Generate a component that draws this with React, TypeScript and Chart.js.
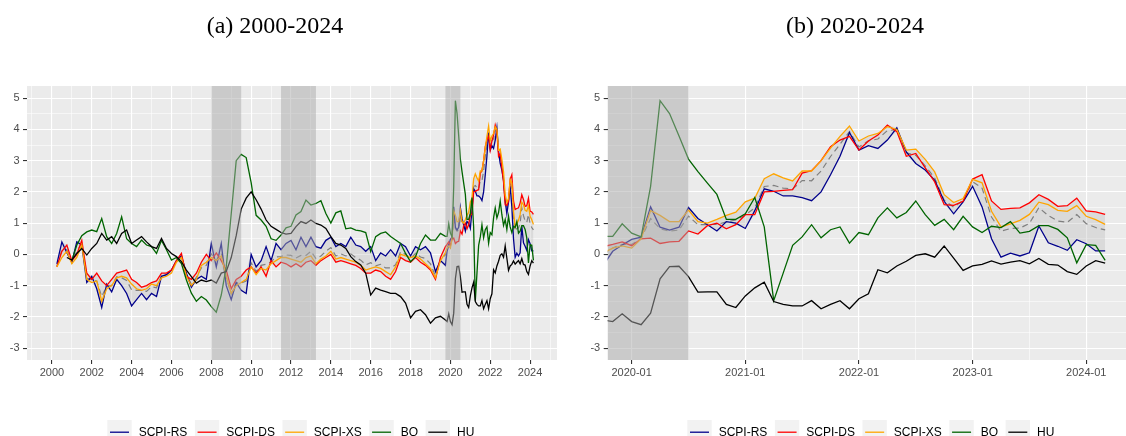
import React, { useEffect, useRef } from 'react';
import { Chart, registerables } from 'chart.js';

Chart.register(...registerables);

const FONT_SANS = '"Liberation Sans", Arial, Helvetica, sans-serif';
const FONT_SERIF = '"Liberation Serif", "Times New Roman", serif';

const seriesNames = ['SCPI-RS', 'SCPI-DS', 'SCPI-XS', 'BQ', 'HU'];
const seriesColors = ['#00008B', '#FF0000', '#FFA500', '#006400', '#000000'];

// ---- Panel (a): quarterly observations, 2000.25 .. 2019.5 (decimal years) ----
const quarterlyYears = Array.from({ length: 78 }, (_, i) => 2000.25 + i * 0.25);

const qRS = [
  -0.3, 0.4, 0.05,
  -0.25, 0.4, 0.3, -0.9,
  -0.7, -1.1, -1.7, -0.95,
  -1.2, -0.8, -1.0, -1.25,
  -1.65, -1.45, -1.25, -1.45,
  -1.25, -1.35, -0.7, -0.65,
  -0.5, -0.2, -0.05, -0.6,
  -1.05, -0.8, -0.7, -0.8,
  0.35, -0.4, 0.35, -1.0,
  -1.45, -0.9, -1.15, -1.25,
  0.0, -0.4, -0.2, 0.25,
  -0.2, 0.35, 0.15, 0.35,
  0.45, 0.15, 0.55, 0.25,
  0.55, 0.25, 0.2, 0.45,
  0.55, 0.25, 0.35, 0.25,
  0.55, 0.3, 0.25, 0.1,
  0.25, -0.2, 0.05, -0.05,
  0.15, -0.05, 0.35, 0.25,
  -0.05, 0.25, 0.15, 0.25,
  0.05, -0.55, -0.2,
];
const qDS = [
  -0.4, 0.1, 0.3,
  -0.2, 0.0, 0.45, -0.6,
  -0.8, -0.6, -0.85, -1.0,
  -0.8, -0.6, -0.55, -0.5,
  -0.8, -0.9, -1.05, -1.0,
  -0.9, -0.85, -0.6, -0.6,
  -0.5, -0.2, 0.03, -0.7,
  -0.8, -0.6, -0.25, 0.0,
  -0.2, 0.05, -0.2, -0.5,
  -1.1, -0.8, -0.7, -0.5,
  -0.4, -0.6, -0.4, -0.7,
  -0.2, -0.4, -0.25, -0.3,
  -0.4, -0.3, -0.4, -0.25,
  -0.2, -0.35, -0.2, -0.1,
  0.0, -0.25, -0.2, -0.25,
  -0.3, -0.35, -0.45, -0.6,
  -0.6, -0.5, -0.55, -0.7,
  -0.8, -0.55, -0.1, -0.2,
  -0.25, -0.1, -0.25, -0.35,
  -0.5, -0.8, -0.1,
];
const qXS = [
  -0.4, -0.1, 0.1,
  -0.3, -0.1, 0.3, -0.8,
  -0.9, -0.85, -1.5, -1.1,
  -1.0, -0.75, -0.7, -0.75,
  -0.95, -1.1, -1.15, -1.1,
  -0.95, -1.0, -0.75, -0.7,
  -0.6, -0.25, -0.1, -0.7,
  -1.0, -0.8, -0.35, -0.25,
  -0.1, -0.2, -0.05, -0.7,
  -1.25, -1.0, -0.9, -0.8,
  -0.4, -0.65, -0.45, -0.5,
  -0.3, -0.2, -0.1, -0.1,
  -0.15, -0.2, -0.25, -0.1,
  -0.05, -0.3, -0.15, -0.05,
  0.1, -0.15, -0.1, -0.15,
  -0.2, -0.25, -0.35, -0.5,
  -0.45, -0.4, -0.45, -0.55,
  -0.65, -0.4, 0.0, -0.05,
  -0.1, -0.05, -0.15, -0.3,
  -0.45, -0.75, -0.2,
];
const qBQ = [
  null, null, null,
  -0.2, 0.3, 0.6, 0.72,
  0.78, 0.73, 1.15, 0.57,
  0.35, 0.67, 1.2, 0.5,
  0.35, 0.25, 0.46, 0.3,
  0.25, 0.03, 0.45, 0.15,
  -0.18, -0.1, -0.29, -0.82,
  -1.24, -1.5, -1.35, -1.46,
  -1.67, -1.85, -1.3, -0.4,
  1.3, 3.0, 3.2, 3.1,
  2.3, 1.25, 1.1, 0.9,
  0.5, 0.45, 0.62, 0.85,
  0.9, 1.26, 1.37, 1.74,
  1.58, 1.63, 1.72, 1.31,
  1.0, 1.33, 1.39, 0.82,
  0.85, 0.78, 0.75, 0.7,
  0.09, 0.57, 0.67, 0.72,
  0.57, 0.46, 0.35, 0.03,
  -0.23, -0.07, 0.35, 0.62,
  0.46, 0.46, 0.67,
];
const qHU = [
  null, null, -0.1,
  -0.18, 0.03, 0.19, -0.02,
  0.19, 0.35, 0.67, 0.46,
  0.57, 0.35, 0.67, 0.78,
  0.35, 0.46, 0.57, 0.4,
  0.25, 0.19, 0.51, 0.19,
  0.03, -0.07, -0.23, -0.5,
  -0.71, -0.92, -0.82, -0.87,
  -0.82, -0.92, -0.6, -0.55,
  -0.1, 0.6, 1.45, 1.8,
  2.0, 1.75, 1.45, 1.1,
  0.9, 0.8, 0.7, 0.65,
  0.67, 0.89, 1.05, 0.99,
  1.1, 0.99, 0.94, 0.83,
  0.57, 0.35, 0.3, 0.19,
  -0.07, -0.23, -0.34, -0.6,
  -1.3, -1.08, -1.14, -1.19,
  -1.25, -1.25, -1.35, -1.56,
  -2.03, -1.82, -1.77, -1.93,
  -2.2, -2.03, -1.98,
];

// ---- Monthly observations 2019-10 .. 2024-03 (months relative to 2020-01) ----
const monthOffsets = Array.from({ length: 54 }, (_, i) => i - 3);

const mRS = [
  -0.35, 0.1, 0.3, 0.48, 0.55, 1.52, 0.87, 0.78, 0.87, 1.5, 1.15, 0.95, 0.75, 1.05, 1.0,
  0.83, 1.4, 2.1, 2.02, 1.87, 1.87, 1.82, 1.72, 2.0, 2.55, 3.14, 3.9, 3.34, 3.48, 3.39,
  3.66, 4.05, 3.28, 2.91, 2.7, 2.37, 1.7, 1.3, 1.68, 2.18, 1.52, 0.5, -0.09, 0.04, -0.05,
  0.05, 0.91, 0.37, 0.26, 0.13, 0.47, 0.34, 0.11, 0.11,
];
const mDS = [
  0.25, 0.32, 0.4, 0.28, 0.5, 0.52, 0.35, 0.4, 0.42, 0.75, 0.65, 0.92, 1.0, 0.82, 0.95,
  1.27, 1.27, 2.0, 2.02, 2.05, 2.07, 2.6, 2.68, 3.0, 3.45, 3.66, 3.78, 3.34, 3.63, 3.82,
  4.14, 3.93, 3.14, 3.23, 2.77, 2.32, 1.59, 1.57, 1.7, 2.41, 2.55, 1.71, 1.44, 1.47, 1.49,
  1.65, 1.91, 1.76, 1.54, 1.56, 1.8, 1.39, 1.36, 1.28,
];
const mXS = [
  0.05, 0.2, 0.27, 0.2, 0.5, 1.4, 1.25, 1.05, 1.05, 1.42, 1.05, 1.0, 1.12, 1.25, 1.35,
  1.68, 1.8, 2.42, 2.58, 2.45, 2.35, 2.67, 2.67, 3.0, 3.4, 3.78, 4.11, 3.63, 3.79, 3.87,
  4.09, 4.0, 3.34, 3.37, 3.04, 2.64, 1.91, 1.66, 1.79, 2.4, 2.29, 1.38, 0.88, 0.98, 1.09,
  1.28, 1.67, 1.59, 1.41, 1.38, 1.56, 1.22, 1.11, 0.96,
];
const mBQ = [
  0.58, 0.58, 0.98, 0.68, 0.56, 2.18, 4.92, 4.51, 3.79, 3.05, 2.65, 2.28, 1.92, 1.12, 1.12,
  1.3, 1.82, 0.88, -1.48, -0.6, 0.29, 0.56, 0.95, 0.53, 0.79, 0.88, 0.36, 0.7, 0.63, 1.17,
  1.49, 1.17, 1.34, 1.71, 1.27, 0.93, 1.12, 0.79, 1.22, 0.88, 0.7, 0.9, 0.86, 1.05, 0.68,
  0.74, 0.92, 0.92, 0.8, 0.53, -0.27, 0.31, 0.29, -0.19,
];
const mHU = [
  -2.1, -2.15, -1.9, -2.15, -2.25, -1.88, -0.78, -0.39, -0.38, -0.71, -1.21, -1.2, -1.2, -1.6, -1.7,
  -1.33, -1.07, -0.89, -1.51, -1.6, -1.65, -1.65, -1.48, -1.74, -1.6, -1.48, -1.74, -1.42, -1.26, -0.49,
  -0.59, -0.37, -0.22, -0.03, 0.02, -0.09, 0.27, -0.12, -0.51, -0.37, -0.32, -0.21, -0.31, -0.25, -0.2,
  -0.3, -0.13, -0.32, -0.34, -0.55, -0.64, -0.37, -0.2, -0.28,
];

// ---- Axis ticks ----
const yTickValues = [-3, -2.5, -2, -1.5, -1, -0.5, 0, 0.5, 1, 1.5, 2, 2.5, 3, 3.5, 4, 4.5, 5];
const leftXTickYears = [1999, 2000, 2001, 2002, 2003, 2004, 2005, 2006, 2007, 2008, 2009, 2010, 2011, 2012,
  2013, 2014, 2015, 2016, 2017, 2018, 2019, 2020, 2021, 2022, 2023, 2024, 2025];
const rightXTickMonths = [0, 6, 12, 18, 24, 30, 36, 42, 48];
const rightXLabelMonths = [0, 12, 24, 36, 48];
const rightXLabels = ['2020-01', '2021-01', '2022-01', '2023-01', '2024-01'];

// ---- Shaded periods ----
const leftShading = [[2008, 2009.5], [2011.5, 2013.25], [2019.75, 2020.5]];
const rightShading = [[-3, 6]];

type Panel = {
  title: string;
  x: number[];
  series: (number | null)[][];
  xMin: number;
  xMax: number;
  xTicks: number[];
  isMajorX: (v: number) => boolean;
  xLabel: (v: number) => string;
  shading: number[][];
  yAxisWidth: number;
  padRight: number;
  titleX: number;
  legendX: number;
};

const leftPanel: Panel = {
  title: '(a) 2000-2024',
  x: [...quarterlyYears, ...monthOffsets.map((m) => 2020 + m / 12)],
  series: [
    [...qRS, ...mRS],
    [...qDS, ...mDS],
    [...qXS, ...mXS],
    [...qBQ, ...mBQ],
    [...qHU, ...mHU],
  ],
  xMin: 1998.75,
  xMax: 2025.35,
  xTicks: leftXTickYears,
  isMajorX: (v) => Math.round(v) % 2 === 0,
  xLabel: (v) => (Math.round(v) % 2 === 0 ? String(Math.round(v)) : ''),
  shading: leftShading,
  yAxisWidth: 27,
  padRight: 6,
  titleX: 275,
  legendX: 107.3,
};

const rightPanel: Panel = {
  title: '(b) 2020-2024',
  x: monthOffsets,
  series: [mRS, mDS, mXS, mBQ, mHU],
  xMin: -2.53,
  xMax: 52.2,
  xTicks: rightXTickMonths,
  isMajorX: (v) => rightXLabelMonths.includes(Math.round(v)),
  xLabel: (v) => {
    const i = rightXLabelMonths.indexOf(Math.round(v));
    return i >= 0 ? rightXLabels[i] : '';
  },
  shading: rightShading,
  yAxisWidth: 44.7,
  padRight: 0,
  titleX: 292,
  legendX: 124.3,
};

function buildConfig(p: Panel): any {
  const [rs, ds, xs] = p.series as number[][];
  const lo = rs.map((_, i) => Math.min(rs[i], ds[i], xs[i]));
  const hi = rs.map((_, i) => Math.max(rs[i], ds[i], xs[i]));
  const mean = rs.map((_, i) => (rs[i] + ds[i] + xs[i]) / 3);
  const pts = (arr: (number | null)[]) => arr.map((y, i) => ({ x: p.x[i], y }));

  const datasets: any[] = [
    { label: 'lo', data: pts(lo), borderColor: 'rgba(0,0,0,0)', borderWidth: 0, fill: false, order: 20, clip: 0 },
    { label: 'hi', data: pts(hi), borderColor: 'rgba(0,0,0,0)', borderWidth: 0, fill: '-1',
      backgroundColor: 'rgba(185,185,185,0.35)', order: 19, clip: 0 },
    { label: 'mean', data: pts(mean), borderColor: '#7F7F7F', borderWidth: 1.2, borderDash: [6, 4],
      fill: false, order: 18, clip: 0 },
    ...p.series.map((s, k) => ({
      label: seriesNames[k],
      data: pts(s),
      borderColor: seriesColors[k],
      borderWidth: 1.3,
      fill: false,
      order: 10 - k,
      clip: 0,
    })),
  ];

  const decor = {
    id: 'panelDecor',
    beforeDraw(chart: any) {
      const { ctx, chartArea: a } = chart;
      ctx.save();
      ctx.fillStyle = '#FFFFFF';
      ctx.fillRect(0, 0, chart.width, chart.height);
      ctx.fillStyle = '#EBEBEB';
      ctx.fillRect(a.left, a.top, a.right - a.left, a.bottom - a.top);
      ctx.restore();
    },
    afterDatasetsDraw(chart: any) {
      const { ctx, chartArea: a } = chart;
      const sx = chart.scales.x;
      ctx.save();
      ctx.beginPath();
      ctx.rect(a.left, a.top, a.right - a.left, a.bottom - a.top);
      ctx.clip();
      ctx.fillStyle = 'rgba(170,170,170,0.5)';
      p.shading.forEach(([s, e]) => {
        const x0 = Math.max(a.left, sx.getPixelForValue(s));
        const x1 = Math.min(a.right, sx.getPixelForValue(e));
        ctx.fillRect(x0, a.top, x1 - x0, a.bottom - a.top);
      });
      ctx.restore();
    },
    afterDraw(chart: any) {
      const ctx = chart.ctx;
      ctx.save();
      ctx.fillStyle = '#000000';
      ctx.font = `24px ${FONT_SERIF}`;
      ctx.textAlign = 'center';
      ctx.textBaseline = 'middle';
      ctx.fillText(p.title, p.titleX, 27);

      ctx.font = `12px ${FONT_SANS}`;
      ctx.textAlign = 'left';
      let x = p.legendX;
      const boxTop = 420;
      const box = 24.4;
      const cy = boxTop + box / 2;
      seriesNames.forEach((name, k) => {
        ctx.fillStyle = '#F2F2F2';
        ctx.fillRect(x, boxTop, box, box);
        ctx.strokeStyle = seriesColors[k];
        ctx.lineWidth = 1.3;
        ctx.beginPath();
        ctx.moveTo(x + 2.7, cy);
        ctx.lineTo(x + box - 2.7, cy);
        ctx.stroke();
        ctx.fillStyle = '#000000';
        const tx = x + box + 7;
        ctx.fillText(name, tx, cy);
        x = tx + ctx.measureText(name).width + 7.5;
      });
      ctx.restore();
    },
  };

  const isMajorY = (v: number) => Number.isInteger(v);

  return {
    type: 'line',
    data: { datasets },
    options: {
      animation: false,
      responsive: false,
      devicePixelRatio: 1,
      events: [],
      layout: { padding: { top: 86, right: p.padRight, bottom: 0, left: 0 } },
      elements: { point: { radius: 0 }, line: { tension: 0 } },
      plugins: { legend: { display: false }, tooltip: { enabled: false }, title: { display: false } },
      scales: {
        x: {
          type: 'linear',
          position: 'bottom',
          min: p.xMin,
          max: p.xMax,
          afterBuildTicks: (s: any) => {
            s.ticks = p.xTicks.map((v) => ({ value: v }));
          },
          afterFit: (s: any) => {
            s.height = 76;
          },
          border: { display: false },
          grid: {
            color: '#FFFFFF',
            lineWidth: (c: any) => (c.tick && p.isMajorX(c.tick.value) ? 1.1 : 0.55),
            tickColor: (c: any) => (c.tick && p.isMajorX(c.tick.value) ? '#333333' : 'rgba(0,0,0,0)'),
            tickWidth: 1.1,
            tickLength: 4,
            drawTicks: true,
          },
          ticks: {
            autoSkip: false,
            maxRotation: 0,
            minRotation: 0,
            padding: 2,
            color: '#4D4D4D',
            font: { family: FONT_SANS, size: 11 },
            callback: (v: any) => p.xLabel(Number(v)),
          },
        },
        y: {
          type: 'linear',
          position: 'left',
          min: -3.38,
          max: 5.39,
          afterBuildTicks: (s: any) => {
            s.ticks = yTickValues.map((v) => ({ value: v }));
          },
          afterFit: (s: any) => {
            s.width = p.yAxisWidth;
          },
          border: { display: false },
          grid: {
            color: '#FFFFFF',
            lineWidth: (c: any) => (c.tick && isMajorY(c.tick.value) ? 1.1 : 0.55),
            tickColor: (c: any) => (c.tick && isMajorY(c.tick.value) ? '#333333' : 'rgba(0,0,0,0)'),
            tickWidth: 1.1,
            tickLength: 4,
            drawTicks: true,
          },
          ticks: {
            autoSkip: false,
            padding: 3.5,
            color: '#4D4D4D',
            font: { family: FONT_SANS, size: 11 },
            callback: (v: any) => (isMajorY(Number(v)) ? String(Number(v)) : ''),
          },
        },
      },
    },
    plugins: [decor],
  };
}

export default function App() {
  const leftRef = useRef<HTMLCanvasElement>(null);
  const rightRef = useRef<HTMLCanvasElement>(null);

  useEffect(() => {
    const a = new Chart(leftRef.current as HTMLCanvasElement, buildConfig(leftPanel));
    const b = new Chart(rightRef.current as HTMLCanvasElement, buildConfig(rightPanel));
    return () => {
      a.destroy();
      b.destroy();
    };
  }, []);

  return (
    <div style={{ position: 'absolute', left: 0, top: 0, width: 1126, height: 436, background: '#FFFFFF', overflow: 'hidden' }}>
      <canvas ref={leftRef} width={563} height={436} style={{ position: 'absolute', left: 0, top: 0 }} />
      <canvas ref={rightRef} width={563} height={436} style={{ position: 'absolute', left: 563, top: 0 }} />
    </div>
  );
}
